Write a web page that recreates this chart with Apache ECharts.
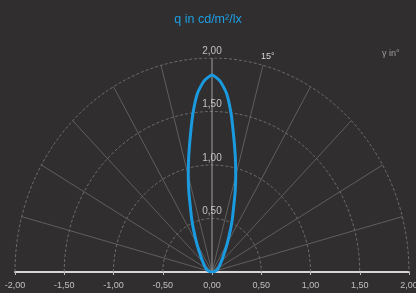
<!DOCTYPE html>
<html>
<head>
<meta charset="utf-8">
<script src="https://cdn.jsdelivr.net/npm/echarts@6/dist/echarts.min.js"></script>
<style>
  html, body { margin: 0; padding: 0; background: #302e2e; }
  #chart { width: 416px; height: 293px; }
</style>
</head>
<body>
<div id="chart"></div>
<script>
// Lichtstärke q (cd/m²/lx) über den Winkel γ (von der Senkrechten), symmetrisch
const GAMMA = [0, 2.5, 5, 7.5, 10, 12.5, 15, 17.5, 20, 22.5, 25, 30, 35, 40, 45, 50, 55, 60, 65, 70, 75, 80, 85, 90];
const Q_VALUES = [1.84, 1.79, 1.68, 1.49, 1.275, 1.095, 0.93, 0.78, 0.64, 0.54, 0.45, 0.31, 0.22, 0.165, 0.13, 0.105, 0.09, 0.075, 0.06, 0.05, 0.04, 0.03, 0.015, 0];

// Gitter
const RINGS = [0.5, 1.0, 1.5, 2.0];
const SPOKES = [-75, -60, -45, -30, -15, 15, 30, 45, 60, 75];
const X_TICKS = [-2, -1.5, -1, -0.5, 0, 0.5, 1, 1.5, 2];

const fmt = (v) => v.toFixed(2).replace(".", ",");
const rad = (d) => (d * Math.PI) / 180;
const toXY = (deg, r) => [r * Math.sin(rad(deg)), r * Math.cos(rad(deg))];

const BLUE = "#1a9be0";

// Kurve: linke Hälfte gespiegelt + rechte Hälfte
const curve = [];
for (let i = GAMMA.length - 1; i > 0; i--) curve.push(toXY(-GAMMA[i], Q_VALUES[i]));
for (let i = 0; i < GAMMA.length; i++) curve.push(toXY(GAMMA[i], Q_VALUES[i]));

const series = [];

// Kreisbögen
RINGS.forEach((r) => {
  const pts = [];
  for (let a = -90; a <= 90; a += 2) pts.push(toXY(a, r));
  series.push({
    type: "line", data: pts, symbol: "none", silent: true, z: 1,
    lineStyle: { color: "#7c7c7c", width: 0.8, type: [3, 2] },
  });
});

// Strahlen
SPOKES.forEach((a) => {
  series.push({
    type: "line", data: [[0, 0], toXY(a, RINGS[RINGS.length - 1])], symbol: "none", silent: true, z: 1,
    lineStyle: { color: "#6c6c6c", width: 0.8 },
  });
});
series.push({
  type: "line", data: [[0, 0], [0, 2]], symbol: "none", silent: true, z: 1,
  lineStyle: { color: "#a0a0a0", width: 1 },
});

// Ringbeschriftung
series.push({
  type: "scatter", symbolSize: 0, silent: true, z: 3,
  data: RINGS.map((r) => [0, r]),
  label: {
    show: true, position: "top", distance: 2,
    color: "#e2e2e2", fontSize: 10, fontFamily: "Liberation Sans",
    formatter: (p) => fmt(p.value[1]),
  },
});

// x-Beschriftung (als Labels, damit die Randwerte nicht verschoben werden)
series.push({
  type: "scatter", symbolSize: 0, silent: true, z: 3, clip: false,
  data: X_TICKS.map((v) => [v, 0]),
  label: {
    show: true, position: "bottom", distance: 9,
    color: "#e0e0e0", fontSize: 9, fontFamily: "Liberation Sans",
    formatter: (p) => fmt(p.value[0]),
  },
});

// Messkurve
series.push({
  type: "line", data: curve, symbol: "none", smooth: 0.2, z: 5, silent: true,
  lineStyle: { color: BLUE, width: 3 },
});

const chart = echarts.init(document.getElementById("chart"), null, { renderer: "canvas" });
chart.setOption({
  backgroundColor: "#302e2e",
  animation: false,
  title: {
    text: "q in cd/m²/lx", left: "center", top: 8,
    textStyle: { color: "#1d9fe6", fontSize: 12.5, fontWeight: "normal", fontFamily: "Liberation Sans" },
  },
  grid: { left: 15, right: 7, top: 58, bottom: 21, containLabel: false, outerBoundsMode: "none" },
  xAxis: {
    type: "value", min: -2, max: 2, interval: 0.5,
    axisLine: { show: true, onZero: false, lineStyle: { color: "#d6d6d6", width: 2 } },
    axisTick: { show: true, length: 3, lineStyle: { color: "#bdbdbd" } },
    splitLine: { show: false },
    axisLabel: { show: false },
  },
  yAxis: { type: "value", min: 0, max: 2, show: false },
  graphic: [
    { type: "text", left: 261, top: 52, style: { text: "15°", fill: "#d8d8d8", fontSize: 9, fontFamily: "Liberation Sans" } },
    { type: "text", left: 382, top: 49, style: { text: "γ in°", fill: "#a0a0a0", fontSize: 9, fontFamily: "Liberation Sans" } },
  ],
  series: series,
});
</script>
</body>
</html>
